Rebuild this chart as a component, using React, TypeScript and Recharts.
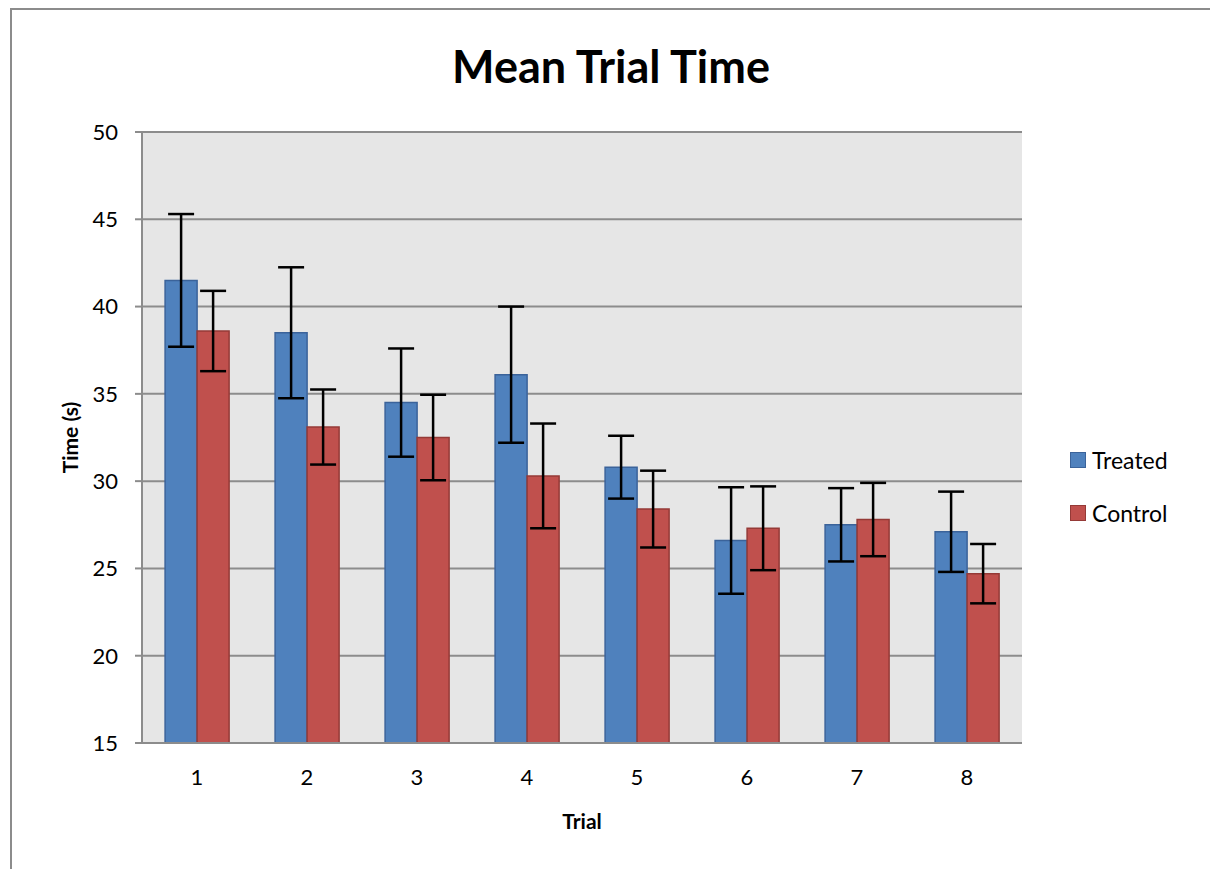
import React from "react";
import { BarChart, Bar, ErrorBar, XAxis, YAxis, CartesianGrid } from "recharts";

const trials = ["1", "2", "3", "4", "5", "6", "7", "8"];
const treated = [41.5, 38.5, 34.5, 36.1, 30.8, 26.6, 27.5, 27.1];
const treatedErr = [3.8, 3.75, 3.1, 3.9, 1.8, 3.05, 2.1, 2.3];
const control = [38.6, 33.1, 32.5, 30.3, 28.4, 27.3, 27.8, 24.7];
const controlErr = [2.3, 2.15, 2.45, 3.0, 2.2, 2.4, 2.1, 1.7];
const yTicks = [15, 20, 25, 30, 35, 40, 45, 50];

const series = [
  { key: "treated", name: "Treated", fill: "#4f81bd", stroke: "#3b639a" },
  { key: "control", name: "Control", fill: "#c0504d", stroke: "#953a37" },
];

const data = trials.map((t, i) => ({
  trial: t,
  treated: treated[i],
  treatedErr: treatedErr[i],
  control: control[i],
  controlErr: controlErr[i],
}));

const FONT = "Lato, 'Open Sans', sans-serif";
const GRID = "#8c8c8c";

function LegendBox() {
  return (
    <div
      style={{
        position: "absolute",
        left: 1058,
        top: 436,
        fontFamily: FONT,
        fontSize: 23,
        color: "#000",
      }}
    >
      {series.map((s, i) => (
        <div key={s.key} style={{ display: "flex", alignItems: "center", height: 28, marginBottom: i === 0 ? 25 : 0 }}>
          <span
            style={{
              display: "inline-block",
              width: 14,
              height: 14,
              background: s.fill,
              border: `1.5px solid ${s.stroke}`,
              marginRight: 6,
            }}
          />
          <span>{s.name}</span>
        </div>
      ))}
    </div>
  );
}

export default function App() {
  return (
    <div
      style={{
        marginLeft: 2,
        width: 1199,
        height: 900,
        border: `2px solid ${GRID}`,
        position: "relative",
        background: "#fff",
      }}
    >
      <div
        style={{
          position: "absolute",
          left: 0,
          width: 1198,
          top: 29,
          textAlign: "center",
          fontFamily: FONT,
          fontWeight: 700,
          fontSize: 45,
          color: "#000",
        }}
      >
        Mean Trial Time
      </div>
      <BarChart
        width={1195}
        height={858}
        data={data}
        margin={{ top: 122, right: 185, left: 0, bottom: 35 }}
        barCategoryGap="21%"
        barGap={0}
      >
        <CartesianGrid vertical={false} stroke={GRID} strokeWidth={2} fill="#e6e6e6" />
        <XAxis
          dataKey="trial"
          height={90}
          tickLine={false}
          tickSize={8}
          tickMargin={18}
          axisLine={{ stroke: GRID, strokeWidth: 2 }}
          tick={{ fill: "#000", fontSize: 22, fontFamily: FONT }}
          label={{
            content: ({ viewBox }: any) => (
              <text
                x={viewBox.x + viewBox.width / 2}
                y={viewBox.y + 77}
                textAnchor="middle"
                dominantBaseline="central"
                fontFamily={FONT}
                fontWeight={700}
                fontSize={21}
                fill="#000"
              >
                Trial
              </text>
            ),
          }}
        />
        <YAxis
          width={130}
          domain={[15, 50]}
          ticks={yTicks}
          allowDataOverflow
          tickSize={7}
          tickMargin={17}
          tickLine={{ stroke: GRID, strokeWidth: 2 }}
          axisLine={{ stroke: GRID, strokeWidth: 2 }}
          tick={{ fill: "#000", fontSize: 22, fontFamily: FONT }}
          label={{
            content: ({ viewBox }: any) => {
              const cx = 57;
              const cy = viewBox.y + viewBox.height / 2;
              return (
                <text
                  x={cx}
                  y={cy}
                  transform={`rotate(-90 ${cx} ${cy})`}
                  textAnchor="middle"
                  dominantBaseline="central"
                  fontFamily={FONT}
                  fontWeight={700}
                  fontSize={21}
                  fill="#000"
                >
                  Time (s)
                </text>
              );
            },
          }}
        />
        {series.map((s) => (
          <Bar
            key={s.key}
            dataKey={s.key}
            name={s.name}
            fill={s.fill}
            stroke={s.stroke}
            strokeWidth={1.5}
            isAnimationActive={false}
          >
            <ErrorBar dataKey={`${s.key}Err`} width={13} stroke="#000" strokeWidth={2.5} />
          </Bar>
        ))}
      </BarChart>
      <LegendBox />
    </div>
  );
}
